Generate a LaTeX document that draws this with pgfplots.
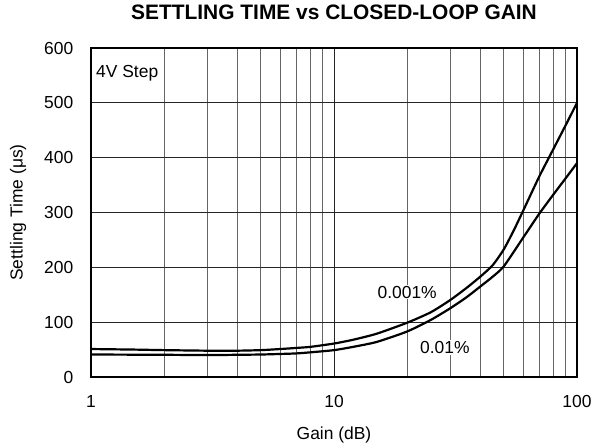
\documentclass[border=0pt]{standalone}
\usepackage{fontspec}
\setmainfont{Liberation Sans}
\usepackage{pgfplots}
\pgfplotsset{compat=1.18}
\begin{document}
\begin{tikzpicture}
\useasboundingbox (-91bp,-66bp) rectangle (504bp,377bp);
\begin{axis}[
  at={(0,0)}, anchor=south west,
  scale only axis, width=486bp, height=329bp,
  xmode=log, xmin=1, xmax=100, ymin=0, ymax=600,
  ytick={0,100,...,600},
  xtick={1,10,100}, xticklabels={1,10,100},
  grid=both,
  major grid style={black!85, line width=0.8bp},
  minor grid style={black!60, line width=0.8bp},
  axis line style={line width=1.8bp},
  major tick length=0pt, minor tick length=0pt,
  tick style={draw=none},
  /pgf/number format/assume math mode=true,
  ticklabel style={font=\fontsize{17.5}{20}\selectfont},
  xticklabel style={inner sep=0pt, anchor=north, yshift=-18bp},
  yticklabel style={inner sep=0pt, anchor=east, xshift=-17.5bp},
  title={SETTLING TIME vs CLOSED-LOOP GAIN},
  title style={font=\bfseries\fontsize{21}{24}\selectfont, at={(axis description cs:0.5,1.091)}, anchor=center, inner sep=0pt},
  xlabel={Gain (dB)},
  xlabel style={font=\fontsize{17.5}{20}\selectfont, at={(axis description cs:0.5,-0.175)}, anchor=center, inner sep=0pt},
  ylabel={Settling Time (μs)},
  ylabel style={font=\fontsize{17.5}{20}\selectfont, at={(axis description cs:-0.150,0.5)}, anchor=center, inner sep=0pt},
]
% 0.001%
\addplot[black, line width=2.2bp, smooth, tension=0.4] coordinates {
 (1,51) (1.5,50) (2,49) (3,48) (4,48) (5,49) (6,51) (7,53) (8,55) (10,61)
 (12,68) (15,79) (20,99) (25,118) (30,140) (35,162) (40,183) (45,204)
 (50,233) (55,268) (60,303) (70,366) (80,416) (90,460) (100,500)};
% 0.01%
\addplot[black, line width=2.2bp, smooth, tension=0.4] coordinates {
 (1,41) (2,40.5) (3,40) (4,40.5) (5,41) (6,42) (7,43) (8,45) (10,49)
 (12,55) (15,64) (20,83) (25,104) (30,125) (35,145) (40,165) (45,183)
 (50,202) (60,254) (70,298) (80,333) (90,363) (100,390)};
\node[fill=white, inner sep=1bp, font=\fontsize{17.5}{20}\selectfont] at (axis cs:20,155) {0.001\%};
\node[fill=white, inner sep=1bp, font=\fontsize{17.5}{20}\selectfont] at (axis cs:28.6,54) {0.01\%};
\node[anchor=west, inner sep=0pt, font=\fontsize{17.5}{20}\selectfont] at (axis cs:1,554) [xshift=5bp] {4V Step};
\end{axis}
\end{tikzpicture}
\end{document}
